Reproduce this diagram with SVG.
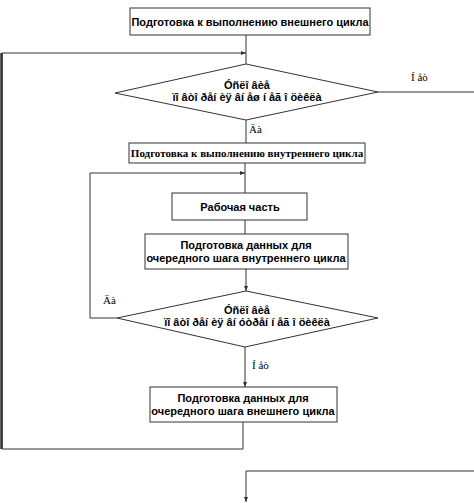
<svg xmlns="http://www.w3.org/2000/svg" width="474" height="503" viewBox="0 0 474 503">
<style>
.box{fill:#fff;stroke:#333;stroke-width:1}
.ln{fill:none;stroke:#333;stroke-width:1}
.t{font-family:"Liberation Sans",Arial,sans-serif;font-size:11px;font-weight:bold;fill:#000;text-anchor:middle}
.ts{font-family:"Liberation Serif","Times New Roman",serif;font-size:11px;font-weight:bold;fill:#000;text-anchor:middle}
.lb{font-family:"Liberation Serif","Times New Roman",serif;font-size:11px;fill:#000}
</style>
<defs>
<marker id="ar" markerWidth="6" markerHeight="6" refX="5" refY="3" orient="auto" markerUnits="userSpaceOnUse">
<path d="M0,1 L5,3 L0,5 Z" fill="#333"/>
</marker>
</defs>
<rect width="474" height="503" fill="#fff"/>
<g id="connectors">
<line class="ln" x1="246" y1="35" x2="246" y2="64"/>
<polyline class="ln" points="2,449 2,53 246,53" marker-end="url(#ar)" style="stroke-width:1"/>
<line x1="1.5" y1="53" x2="1.5" y2="449" stroke="#333" stroke-width="2.5"/>
<line class="ln" x1="378" y1="92" x2="474" y2="92"/>
<line class="ln" x1="246" y1="120" x2="246" y2="143"/>
<line class="ln" x1="245" y1="163" x2="245" y2="193"/>
<polyline class="ln" points="117,318 90,318 90,173 245,173" marker-end="url(#ar)"/>
<line class="ln" x1="245" y1="220" x2="245" y2="234"/>
<line class="ln" x1="246" y1="269" x2="246" y2="291" marker-end="url(#ar)"/>
<line class="ln" x1="245" y1="347" x2="245" y2="387" marker-end="url(#ar)"/>
<polyline class="ln" points="243,422 243,449 2,449"/>
<polyline class="ln" points="474,471 246,471 246,502" marker-end="url(#ar)"/>
</g>
<g id="outer-prep">
<rect class="box" x="130" y="8" width="240" height="27"/>
<text class="t" x="250" y="26">Подготовка к выполнению внешнего цикла</text>
</g>
<g id="outer-cond">
<polygon class="box" points="246,64 378,92 246,120 115,93"/>
<text class="t" x="247" y="89">Óñëî âèå</text>
<text class="t" x="247" y="101">ïî âòî ðåí èÿ âí åø í åã î  öèêëà</text>
</g>
<text class="lb" x="411" y="81">Í åò</text>
<text class="lb" x="249" y="133">Äà</text>
<g id="inner-prep">
<rect class="box" x="129" y="143" width="236" height="20"/>
<text class="ts" x="247" y="157">Подготовка к выполнению внутреннего цикла</text>
</g>
<g id="work">
<rect class="box" x="172" y="193" width="135" height="27"/>
<text class="t" x="240" y="211">Рабочая часть</text>
</g>
<g id="inner-step">
<rect class="box" x="145" y="234" width="203" height="35"/>
<text class="t" x="246" y="249">Подготовка данных для</text>
<text class="t" x="246" y="262">очередного шага внутреннего цикла</text>
</g>
<g id="inner-cond">
<polygon class="box" points="246,291 378,318 245,347 117,318"/>
<text class="t" x="247" y="314">Óñëî âèå</text>
<text class="t" x="247" y="326">ïî âòî ðåí èÿ âí óòðåí í åã î  öèêëà</text>
</g>
<text class="lb" x="103" y="304">Äà</text>
<text class="lb" x="252" y="369">Í åò</text>
<g id="outer-step">
<rect class="box" x="150" y="387" width="187" height="35"/>
<text class="t" x="243" y="402">Подготовка данных для</text>
<text class="t" x="243" y="415">очередного шага внешнего цикла</text>
</g>
</svg>
